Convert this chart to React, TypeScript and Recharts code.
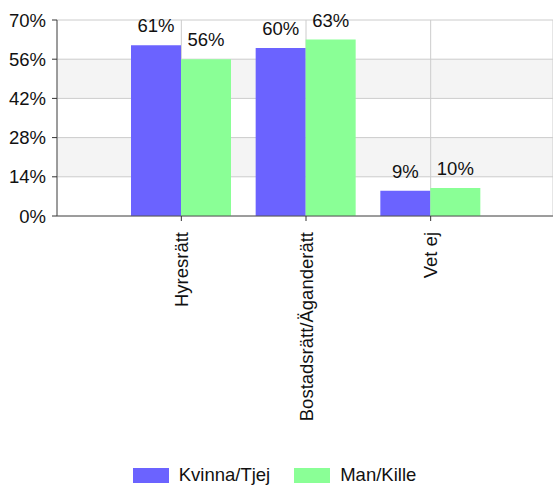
import { Bar, BarChart, CartesianGrid, Legend, XAxis, YAxis } from "recharts";

const CATEGORIES = ["Hyresrätt", "Bostadsrätt/Äganderätt", "Vet ej"];
const KVINNA = [61, 60, 9];
const MAN = [56, 63, 10];
const Y_TICKS = [0, 14, 28, 42, 56, 70];

const BLUE = "#6b63ff";
const GREEN = "#8aff96";
const FONT = "'Liberation Sans', Arial, sans-serif";
const FS = 18.5;

const data = CATEGORIES.map((name, i) => ({ name, kvinna: KVINNA[i], man: MAN[i] }));

function XTick(props: any) {
  const { x, y, payload } = props;
  return (
    <text
      transform={`translate(${x + 6.5},${y + 9}) rotate(-90)`}
      textAnchor="end"
      fill="#111"
      fontSize={FS}
      fontFamily={FONT}
    >
      {payload.value}
    </text>
  );
}

function LegendBox() {
  const item = (color: string, label: string) => (
    <div style={{ display: "flex", alignItems: "center", margin: "0 12px" }}>
      <div style={{ width: 36, height: 15, background: color, marginRight: 10 }} />
      <span>{label}</span>
    </div>
  );
  return (
    <div
      style={{
        display: "flex",
        justifyContent: "center",
        alignItems: "center",
        height: 30,
        paddingRight: 4,
        fontFamily: FONT,
        fontSize: FS,
        color: "#111",
      }}
    >
      {item(BLUE, "Kvinna/Tjej")}
      {item(GREEN, "Man/Kille")}
    </div>
  );
}

export default function App() {
  return (
    <div style={{ position: "absolute", left: 0, top: 0, background: "#fff" }}>
      <BarChart
        width={553}
        height={490}
        data={data}
        margin={{ top: 20, right: 0, bottom: 0, left: 0 }}
        barGap={0}
        barSize={50}
      >
        <CartesianGrid stroke="#cccccc" horizontalFill={["#ffffff", "#f4f4f4"]} />
        <XAxis
          dataKey="name"
          height={244}
          interval={0}
          padding={{ left: 62, right: 60 }}
          tick={<XTick />}
          tickSize={5}
          axisLine={{ stroke: "#555" }}
          tickLine={{ stroke: "#333" }}
        />
        <YAxis
          width={57}
          domain={[0, 70]}
          ticks={Y_TICKS}
          tickFormatter={(v) => `${v}%`}
          tickSize={5}
          tickMargin={6}
          tick={{ fill: "#111", fontSize: FS, fontFamily: FONT }}
          axisLine={{ stroke: "#555" }}
          tickLine={{ stroke: "#333" }}
        />
        <Legend verticalAlign="bottom" height={30} content={() => <LegendBox />} />
        <Bar
          dataKey="kvinna"
          fill={BLUE}
          isAnimationActive={false}
          label={{ position: "top", offset: 13, fill: "#111", fontSize: FS, fontFamily: FONT, formatter: (v: any) => `${v}%` }}
        />
        <Bar
          dataKey="man"
          fill={GREEN}
          isAnimationActive={false}
          label={{ position: "top", offset: 13, fill: "#111", fontSize: FS, fontFamily: FONT, formatter: (v: any) => `${v}%` }}
        />
      </BarChart>
    </div>
  );
}
